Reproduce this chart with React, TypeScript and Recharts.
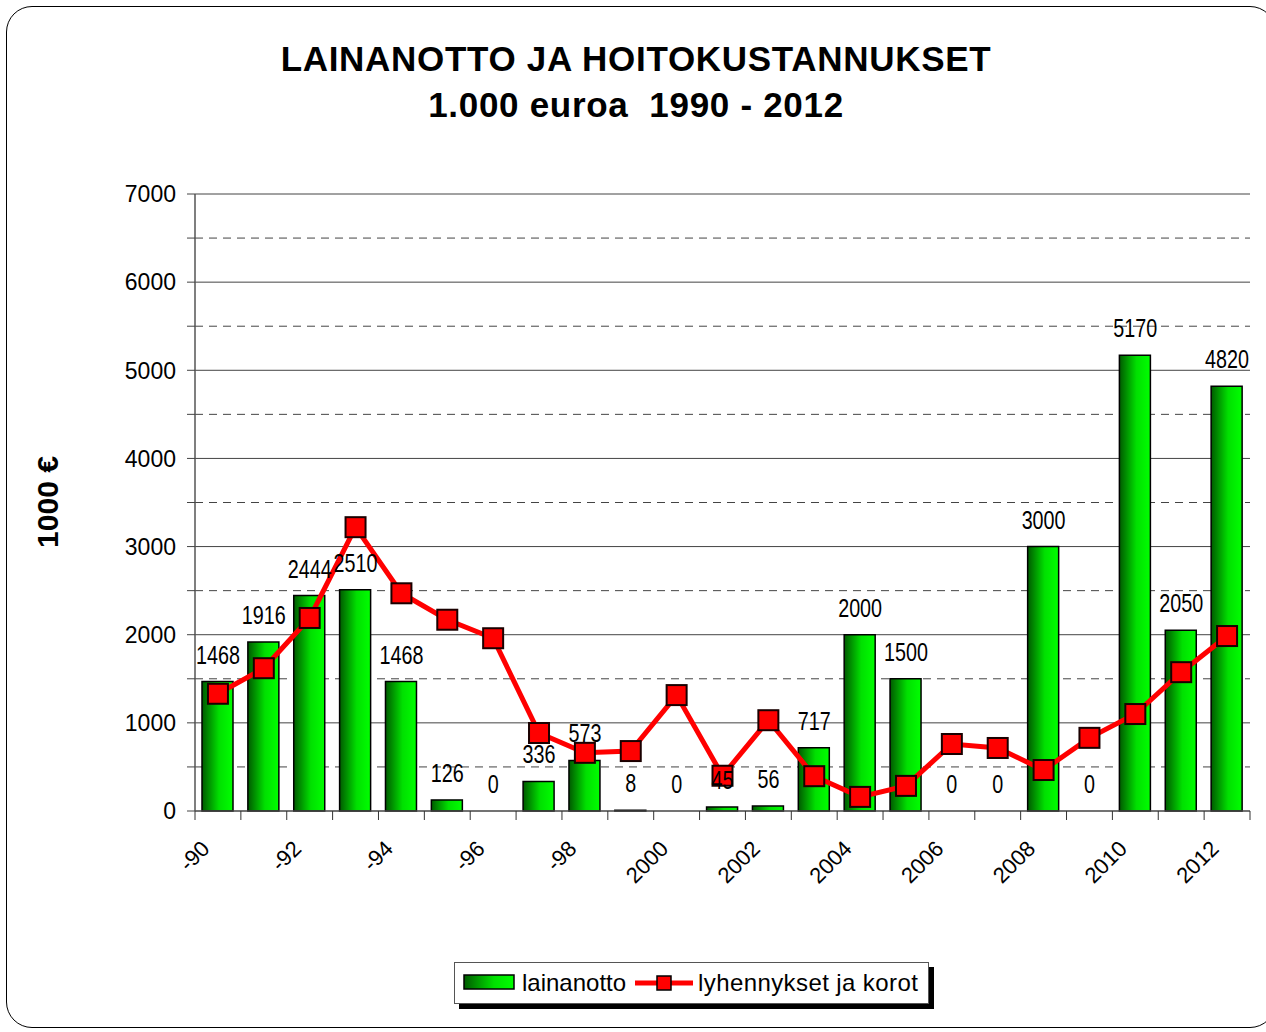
import { ComposedChart, Bar, Line, XAxis, YAxis, CartesianGrid, LabelList } from "recharts";

const years = [
  1990, 1991, 1992, 1993, 1994, 1995, 1996, 1997, 1998, 1999, 2000, 2001,
  2002, 2003, 2004, 2005, 2006, 2007, 2008, 2009, 2010, 2011, 2012,
];
const lainanotto = [
  1468, 1916, 2444, 2510, 1468, 126, 0, 336, 573, 8, 0, 45, 56, 717, 2000, 1500, 0, 0, 3000, 0, 5170, 2050, 4820,
];
const lyhennykset = [
  1330, 1620, 2190, 3220, 2470, 2170, 1960, 885, 660, 680, 1315, 400, 1030, 395, 160, 285, 760, 715, 465, 830, 1100, 1575, 1985,
];
const yTicks = [0, 500, 1000, 1500, 2000, 2500, 3000, 3500, 4000, 4500, 5000, 5500, 6000, 6500, 7000];
const majorLines = [1000, 2000, 3000, 4000, 5000, 6000, 7000];
const minorLines = [500, 1500, 2500, 3500, 4500, 5500, 6500];

const W = 1266;
const H = 1032;
const PLOT_LEFT = 195;
const PLOT_RIGHT = 1250;
const PLOT_TOP = 194;
const PLOT_BOTTOM = 811;
const BAND = (PLOT_RIGHT - PLOT_LEFT) / years.length;

const data = years.map((y, i) => ({
  year: y,
  label: y < 2000 ? "-" + String(y).slice(2) : String(y),
  lainanotto: lainanotto[i],
  lyhennykset: lyhennykset[i],
}));

const sans = "'Liberation Sans', Arial, sans-serif";

function XTick(props: any) {
  const { x, y, payload, index } = props;
  const left = x - BAND / 2;
  const show = years[index] % 2 === 0;
  const tx = x - 7;
  const ty = y + 39;
  return (
    <g>
      <line x1={left} x2={left} y1={y} y2={y + 9} stroke="#333" strokeWidth={1} />
      {index === years.length - 1 && (
        <line x1={x + BAND / 2} x2={x + BAND / 2} y1={y} y2={y + 9} stroke="#333" strokeWidth={1} />
      )}
      {show && (
        <text
          x={tx}
          y={ty}
          transform={`rotate(-45 ${tx} ${ty})`}
          textAnchor="end"
          fontFamily={sans}
          fontSize={22}
          fill="#000"
        >
          {payload.value}
        </text>
      )}
    </g>
  );
}

function YTick(props: any) {
  const { x, y, payload } = props;
  if (payload.value % 1000 !== 0) return <g />;
  return (
    <text x={x} y={y} dy="0.36em" textAnchor="end" fontFamily={sans} fontSize={23} fill="#000">
      {payload.value}
    </text>
  );
}

function SquareDot(props: any) {
  const { cx, cy } = props;
  if (cx == null || cy == null) return <g />;
  return <rect x={cx - 10} y={cy - 10} width={20} height={20} fill="#ff0000" stroke="#1a0000" strokeWidth={2} />;
}

// narrow-looking value labels above the bars
function ValueLabel(props: any) {
  const { x, y, value } = props;
  if (x == null || y == null) return null;
  return (
    <text
      transform={`translate(${x} ${y - 18}) scale(0.79 1)`}
      textAnchor="middle"
      fontFamily={sans}
      fontSize={25}
      fill="#000"
    >
      {value}
    </text>
  );
}

export default function App() {
  return (
    <div style={{ position: "absolute", left: 0, top: 0, width: W, height: H, background: "#fff", overflow: "hidden" }}>
      <div
        style={{
          position: "absolute",
          left: 6,
          top: 6,
          width: 1270,
          height: 1022,
          border: "1.5px solid #000",
          borderRadius: 26,
          boxSizing: "border-box",
        }}
      />
      <div
        style={{
          position: "absolute",
          left: 0,
          width: 1272,
          top: 36,
          textAlign: "center",
          fontFamily: sans,
          fontWeight: "bold",
          fontSize: 35,
          letterSpacing: 0.7,
          lineHeight: "46px",
          color: "#000",
          whiteSpace: "pre",
        }}
      >
        {"LAINANOTTO JA HOITOKUSTANNUKSET\n1.000 euroa  1990 - 2012"}
      </div>
      <div
        style={{
          position: "absolute",
          left: 48,
          top: 502,
          transform: "translate(-50%, -50%) rotate(-90deg)",
          fontFamily: sans,
          fontWeight: "bold",
          fontSize: 30,
          whiteSpace: "nowrap",
        }}
      >
        1000 €
      </div>
      <div style={{ position: "absolute", left: 0, top: 0 }}>
        <ComposedChart
          width={W}
          height={H}
          data={data}
          margin={{ top: PLOT_TOP, right: W - PLOT_RIGHT, left: 0, bottom: 0 }}
          barCategoryGap="32%"
        >
          <defs>
            <linearGradient id="greenBar" x1="0" y1="0" x2="1" y2="0">
              <stop offset="0%" stopColor="#005a00" />
              <stop offset="55%" stopColor="#00e000" />
              <stop offset="100%" stopColor="#00ff00" />
            </linearGradient>
          </defs>
          <CartesianGrid horizontalValues={majorLines} vertical={false} stroke="#444" strokeWidth={1} />
          <CartesianGrid horizontalValues={minorLines} vertical={false} stroke="#444" strokeWidth={1} strokeDasharray="8 6" />
          <XAxis
            dataKey="label"
            height={H - PLOT_BOTTOM}
            interval={0}
            tickSize={0}
            tickMargin={0}
            tickLine={false}
            axisLine={{ stroke: "#444", strokeWidth: 1.5 }}
            tick={<XTick />}
          />
          <YAxis
            width={PLOT_LEFT}
            domain={[0, 7000]}
            ticks={yTicks}
            interval={0}
            tickSize={8}
            tickMargin={11}
            tickLine={{ stroke: "#444" }}
            axisLine={{ stroke: "#555", strokeWidth: 1.5 }}
            tick={<YTick />}
          />
          <Bar dataKey="lainanotto" fill="url(#greenBar)" stroke="#000" strokeWidth={1.5} barSize={31} isAnimationActive={false} />
          <Line
            dataKey="lyhennykset"
            stroke="#ff0000"
            strokeWidth={5}
            dot={<SquareDot />}
            activeDot={false}
            isAnimationActive={false}
          />
          <Line
            dataKey="lainanotto"
            stroke="none"
            dot={false}
            activeDot={false}
            legendType="none"
            isAnimationActive={false}
          >
            <LabelList dataKey="lainanotto" content={<ValueLabel />} />
          </Line>
        </ComposedChart>
      </div>
      <div
        style={{
          position: "absolute",
          left: 459,
          top: 967,
          width: 475,
          height: 42,
          background: "#000",
        }}
      />
      <div
        style={{
          position: "absolute",
          left: 454,
          top: 962,
          width: 475,
          height: 42,
          background: "#fff",
          border: "1px solid #555",
          boxSizing: "border-box",
          display: "flex",
          alignItems: "center",
          fontFamily: sans,
          fontSize: 24,
          color: "#000",
        }}
      >
        <svg width={52} height={18} style={{ marginLeft: 8 }}>
          <defs>
            <linearGradient id="greenLeg" x1="0" y1="0" x2="1" y2="0">
              <stop offset="0%" stopColor="#005a00" />
              <stop offset="60%" stopColor="#00e000" />
              <stop offset="100%" stopColor="#00ff00" />
            </linearGradient>
          </defs>
          <rect x={1} y={1} width={50} height={14} fill="url(#greenLeg)" stroke="#000" strokeWidth={1.5} />
        </svg>
        <span style={{ marginLeft: 7 }}>lainanotto</span>
        <svg width={60} height={20} style={{ marginLeft: 8 }}>
          <line x1={1} x2={59} y1={10} y2={10} stroke="#ff0000" strokeWidth={5} />
          <rect x={23} y={3} width={14} height={14} fill="#ff0000" stroke="#000" strokeWidth={1.5} />
        </svg>
        <span style={{ marginLeft: 4, letterSpacing: 0.4 }}>lyhennykset ja korot</span>
      </div>
    </div>
  );
}
